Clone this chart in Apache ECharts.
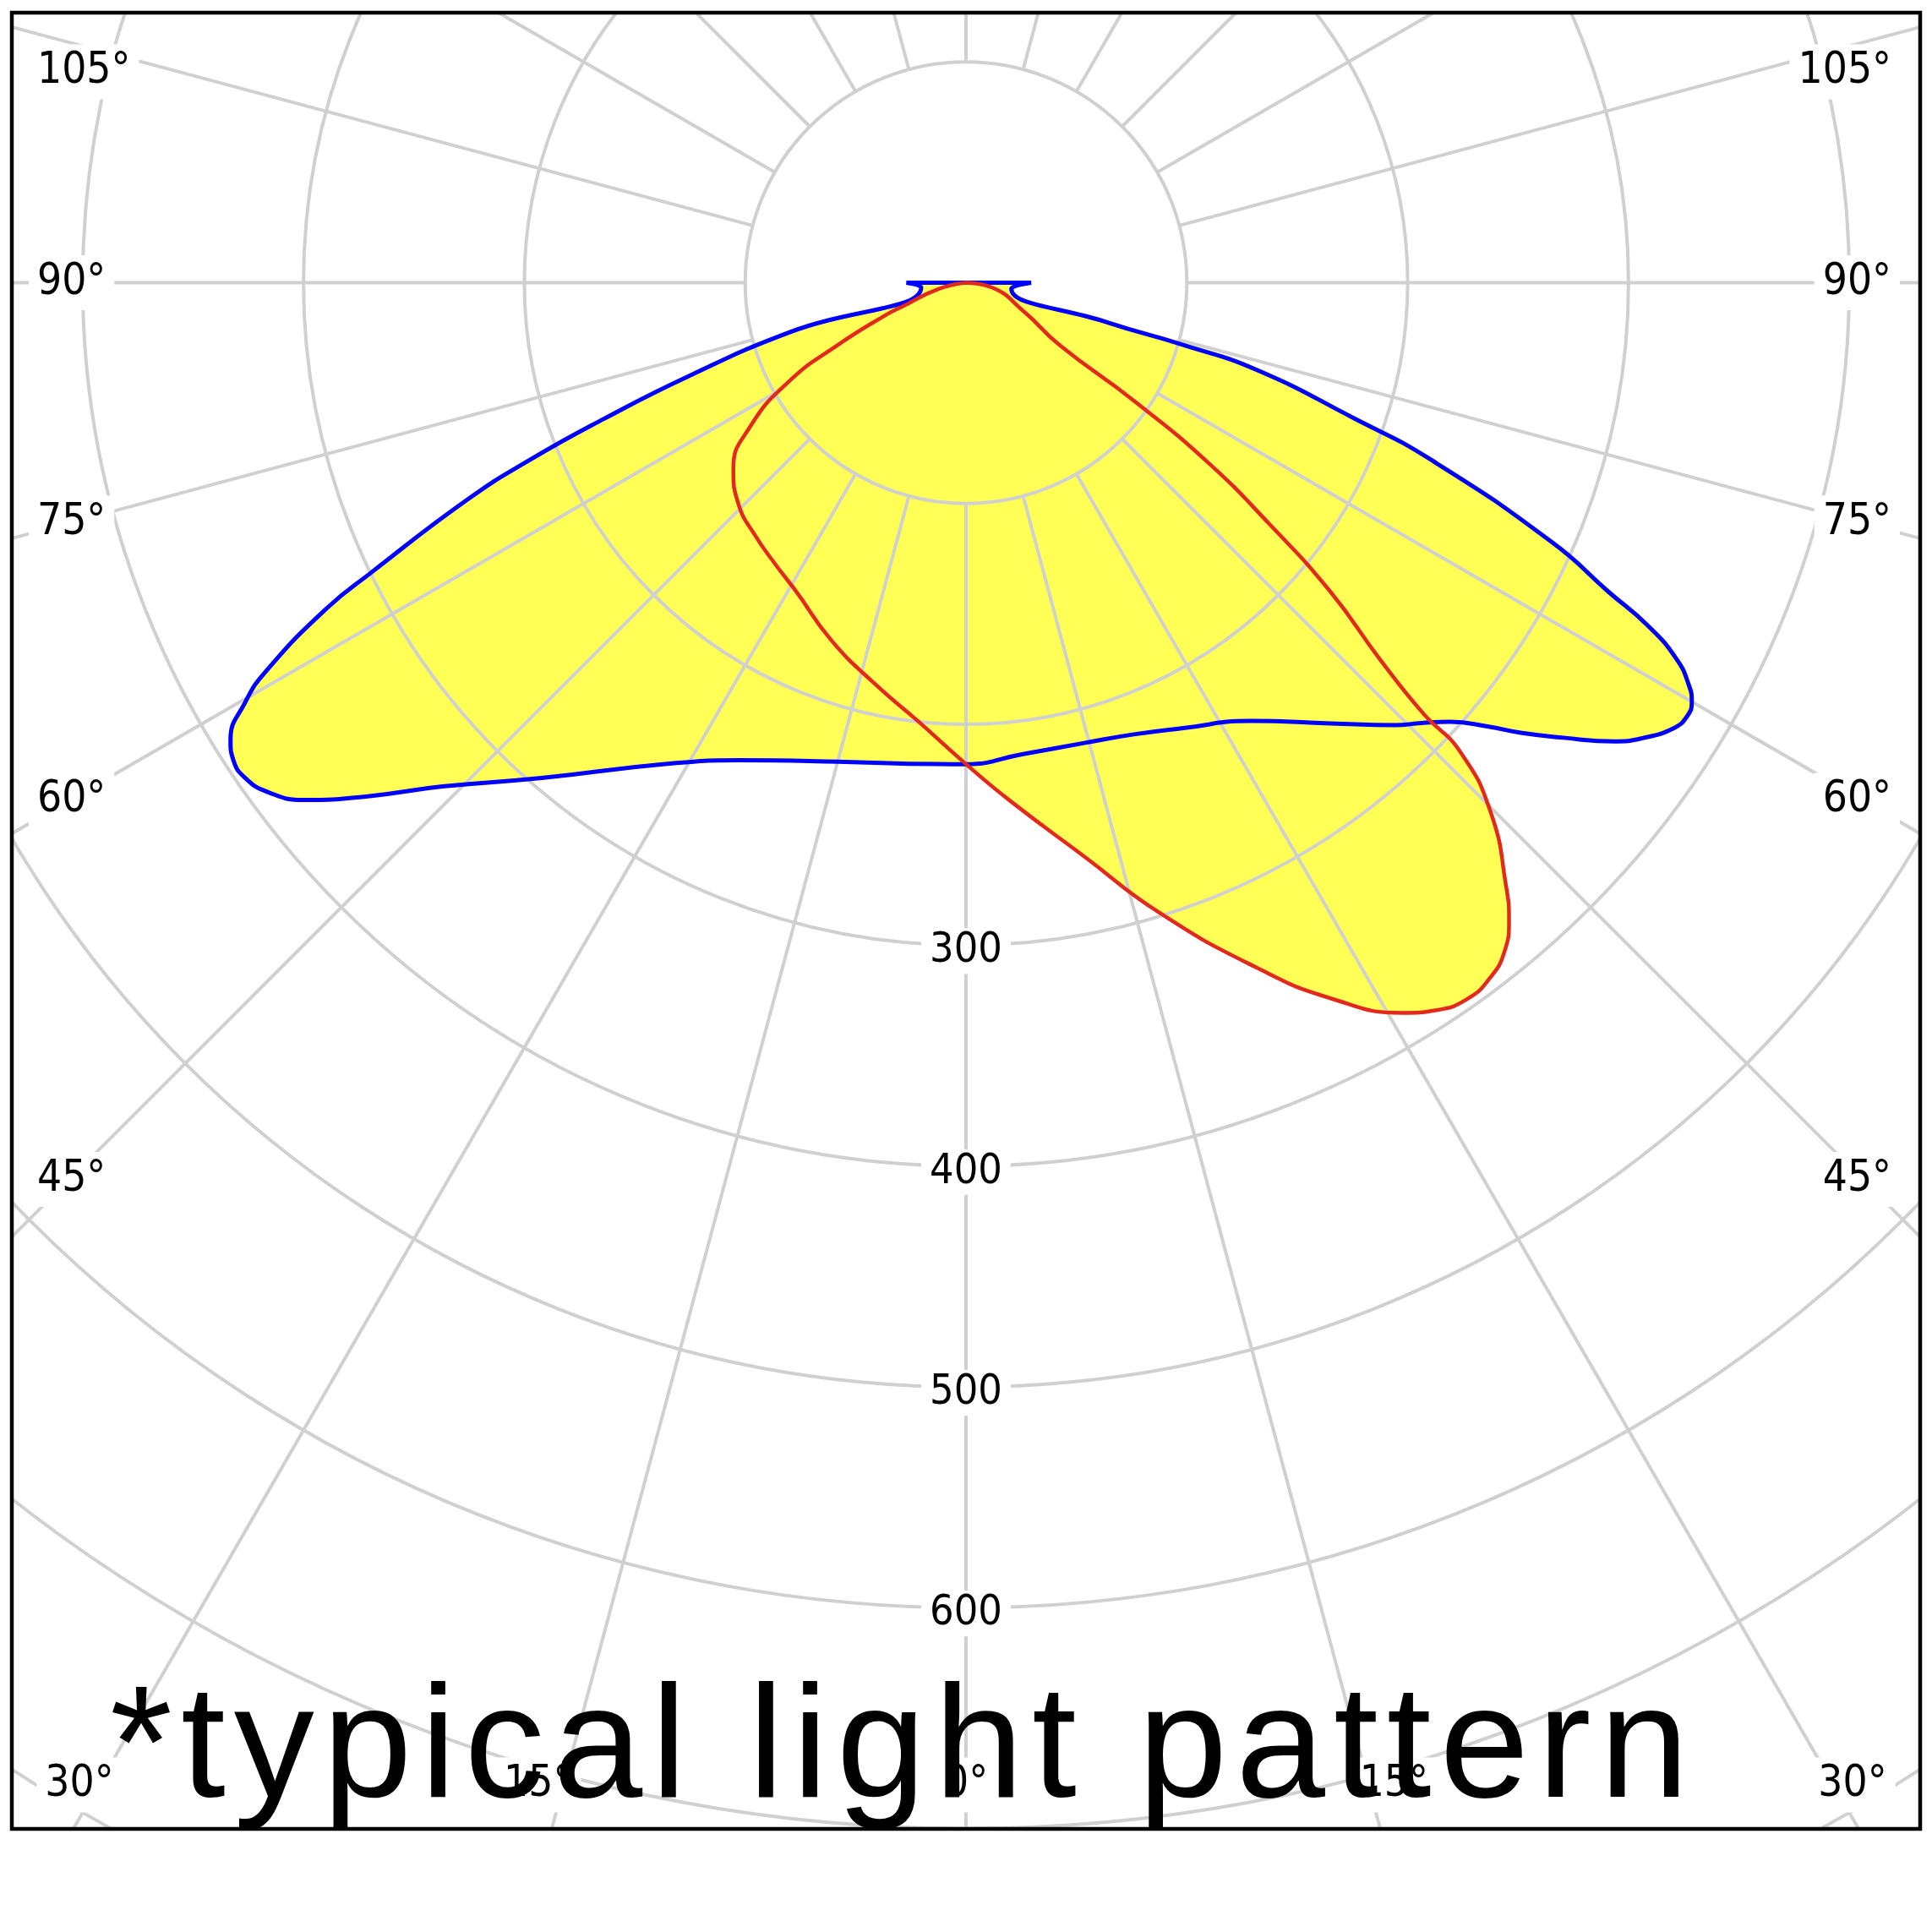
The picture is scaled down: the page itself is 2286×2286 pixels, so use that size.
<!DOCTYPE html>
<html>
<head>
<meta charset="utf-8">
<title>typical light pattern</title>
<script src="https://cdn.jsdelivr.net/npm/echarts@6/dist/echarts.min.js"></script>
<style>
  html, body { margin: 0; padding: 0; background: #fff; }
  #chart { width: 2286px; height: 2286px; }
</style>
</head>
<body>
<div id="chart"></div>
<script>
// gamma (deg from nadir) and intensity
// blue plane, left half: from the horizontal down to nadir
const blueLeftGamma = [90, 84, 74.3, 71.4, 69.4, 67.9, 66.5, 64.0, 63.0, 61.0, 59.8, 58.1, 56.9, 55.5, 53.9, 52.0, 49.2, 46.1, 40.6, 32.0, 25.4, 15.0, 3.5, 0]
const blueLeftCd = [27, 20.4, 83.5, 132, 175, 213, 246, 300, 325, 362, 377.6, 392.3, 396, 396, 391.4, 380.5, 355.6, 329, 295.4, 257, 239.4, 224.5, 218.4, 218]
// blue plane, right half: from nadir up to the horizontal
const blueRightGamma = [6.9, 14.4, 20.4, 26.0, 33.0, 39.6, 44.1, 46.0, 47.8, 49.6, 51.0, 52.7, 54.7, 56.0, 57.8, 59.0, 60.0, 60.9, 62.1, 63.3, 64.3, 66.1, 69.2, 70.7, 73.3, 74.0, 74.3, 82.4, 90]
const blueRightCd = [215, 215.2, 218.2, 224.4, 236.6, 259, 279, 287, 296, 310, 324, 340, 359.5, 369, 378.6, 381, 379.5, 374.6, 364, 345.6, 323, 290.5, 224.4, 187, 137.5, 102, 67, 20.7, 29.5]
// red plane
const redLeftGamma = [77, 69.3, 68.2, 64.1, 60.8, 56.2, 51.3, 45.6, 39.9, 34.3, 28.8, 20.6, 12.8, 6.3, 0]
const redLeftCd = [13, 31.2, 38.5, 64.5, 92.1, 118, 135, 144, 149, 153.8, 159.6, 173.1, 186.3, 199.6, 218]
const redRightGamma = [4.9, 11.65, 17.0, 23.0, 27.0, 30.9, 32.9, 35.0, 37.0, 38.8, 40.4, 41.8, 44.7, 46.5, 46.7, 47.7, 49.7, 51.5, 53.4, 54.9, 56.3, 63.4, 79.7]
const redRightCd = [235.6, 265.3, 298, 337, 363.7, 385.3, 392.3, 395.9, 394.2, 389, 379.4, 367, 338, 308.5, 284.8, 253.5, 216.4, 175.4, 136.3, 92.8, 50.9, 29.5, 11.8]

// labels
const radiusTicks = [300, 400, 500, 600]
const angleTicks = [0, 15, 30, 45, 60, 75, 90, 105]
const title = '*typical light pattern'

// layout, px
const SIZE = 2286
const FRAME = { left: 14, top: 15, right: 2272, bottom: 2164 }
const CX = 1143, CY = 334.5
const PX_PER_100 = 261.3
const BOTTOM_LABEL_Y = 2112
const LABEL_FONT = "'DejaVu Sans Condensed', 'DejaVu Sans', sans-serif"
const GRID = '#d0d0d0'
const YELLOW = '#ffff55'

// left half goes clockwise from nadir (angle = gamma), right half is 360 - gamma
function toLoop(leftG, leftV, rightG, rightV) {
  const pts = [[0, 180]]
  leftG.forEach((g, i) => pts.push([leftV[i], g]))
  rightG.forEach((g, i) => pts.push([rightV[i], 360 - g]))
  pts.push([0, 180])
  return pts
}
const bluePts = toLoop(blueLeftGamma, blueLeftCd, blueRightGamma, blueRightCd)
const redPts = toLoop(redLeftGamma, redLeftCd, redRightGamma, redRightCd)

// angle labels sit where the ray leaves the frame, pushed inside it
function angleLabelPos(deg, side) {
  const t = deg * Math.PI / 180
  if (side !== 0) {
    const dx = side < 0 ? CX - (FRAME.left + 68) : (FRAME.right - 68) - CX
    const y = CY + dx / Math.tan(t)
    if (y < BOTTOM_LABEL_Y) {
      return {
        x: side < 0 ? FRAME.left + 20 : FRAME.right - 24,
        y: Math.max(y, FRAME.top + 70),
        align: side < 0 ? 'left' : 'right'
      }
    }
  }
  let x = CX + side * (FRAME.bottom + 60 - CY) * Math.tan(t)
  x = Math.min(Math.max(x, FRAME.left + 80), FRAME.right - 80)
  return { x: x, y: BOTTOM_LABEL_Y, align: 'center' }
}

const elements = []
angleTicks.forEach(deg => {
  const sides = deg === 0 ? [0] : [-1, 1]
  sides.forEach(side => {
    const p = angleLabelPos(deg, side)
    elements.push({
      type: 'text', x: p.x, y: p.y, z: 54, silent: true,
      style: {
        text: deg + '°', fontSize: 51, fontFamily: LABEL_FONT, fill: '#000',
        align: p.align, verticalAlign: 'middle', backgroundColor: '#fff', padding: [7, 10]
      }
    })
  })
})

// big note, laid out letter by letter to get the wide tracking
const TITLE_FS = 190
const TITLE_SPACING = 10
const measure = document.createElement('canvas').getContext('2d')
measure.font = TITLE_FS + 'px "Liberation Sans"'
let tx = 130
for (const ch of title) {
  if (ch !== ' ') {
    elements.push({
      type: 'text', x: tx, y: 2139 - 0.3465 * TITLE_FS, z: 56, silent: true,
      style: { text: ch, fontSize: TITLE_FS, fontFamily: '"Liberation Sans", Arial, sans-serif', fill: '#000', align: 'left', verticalAlign: 'middle' }
    })
  }
  tx += measure.measureText(ch).width + TITLE_SPACING
}

// white masks outside the frame, then the frame itself
const masks = [
  [0, 0, SIZE, FRAME.top],
  [0, FRAME.bottom, SIZE, SIZE - FRAME.bottom],
  [0, 0, FRAME.left, SIZE],
  [FRAME.right, 0, SIZE - FRAME.right, SIZE]
]
masks.forEach(m => elements.push({
  type: 'rect', z: 58, silent: true,
  shape: { x: m[0], y: m[1], width: m[2], height: m[3] },
  style: { fill: '#fff' }
}))
elements.push({
  type: 'rect', z: 60, silent: true,
  shape: { x: FRAME.left, y: FRAME.top, width: FRAME.right - FRAME.left, height: FRAME.bottom - FRAME.top },
  style: { fill: 'none', stroke: '#000', lineWidth: 4.5 }
})

const chart = echarts.init(document.getElementById('chart'), null, { renderer: 'canvas', width: SIZE, height: SIZE })

const hidden = { axisLine: { show: false }, axisTick: { show: false }, axisLabel: { show: false } }
// polar 0 only draws the grid (radial lines start at the 100 ring),
// polar 1 carries the data so nothing is clipped inside that ring
const lineBase = {
  type: 'line', coordinateSystem: 'polar', polarIndex: 1,
  symbol: 'none', smooth: 0.5, clip: false, silent: true
}

chart.setOption({
  animation: false,
  backgroundColor: '#fff',
  polar: [
    { center: [CX, CY], radius: [PX_PER_100, PX_PER_100 * 9] },
    { center: [CX, CY], radius: [0, PX_PER_100 * 9] }
  ],
  radiusAxis: [
    { polarIndex: 0, type: 'value', min: 100, max: 900, interval: 100, z: 3, ...hidden,
      splitLine: { show: true, lineStyle: { color: GRID, width: 4 } } },
    { polarIndex: 1, type: 'value', min: 0, max: 900, interval: 100, ...hidden,
      splitLine: { show: false } }
  ],
  angleAxis: [
    { polarIndex: 0, type: 'value', min: 0, max: 360, interval: 15, startAngle: 270, clockwise: true, z: 3, ...hidden,
      splitLine: { show: true, lineStyle: { color: GRID, width: 4 } } },
    { polarIndex: 1, type: 'value', min: 0, max: 360, interval: 15, startAngle: 270, clockwise: true, ...hidden,
      splitLine: { show: false } }
  ],
  series: [
    { ...lineBase, name: 'blue fill', data: bluePts, z: 1,
      lineStyle: { width: 0, opacity: 0 }, areaStyle: { color: YELLOW, opacity: 1, origin: 0 } },
    { ...lineBase, name: 'red fill', data: redPts, z: 1,
      lineStyle: { width: 0, opacity: 0 }, areaStyle: { color: YELLOW, opacity: 1, origin: 0 } },
    { ...lineBase, name: 'C0-C180', data: bluePts, z: 5,
      lineStyle: { color: '#0000ff', width: 5 } },
    { ...lineBase, name: 'C90-C270', data: redPts, z: 6,
      lineStyle: { color: '#e3281c', width: 4.5 } }
  ]
})

// ring values along the nadir ray, placed through the data polar's scale
radiusTicks.forEach(r => {
  const pt = chart.convertToPixel({ polarIndex: 1 }, [r, 0])
  elements.push({
    type: 'text', x: pt[0], y: pt[1] + 7, z: 54, silent: true,
    style: {
      text: String(r), fontSize: 50, fontFamily: LABEL_FONT, fill: '#000',
      align: 'center', verticalAlign: 'middle', backgroundColor: '#fff', padding: [2, 10]
    }
  })
})

chart.setOption({ graphic: { elements: elements } })
</script>
</body>
</html>
